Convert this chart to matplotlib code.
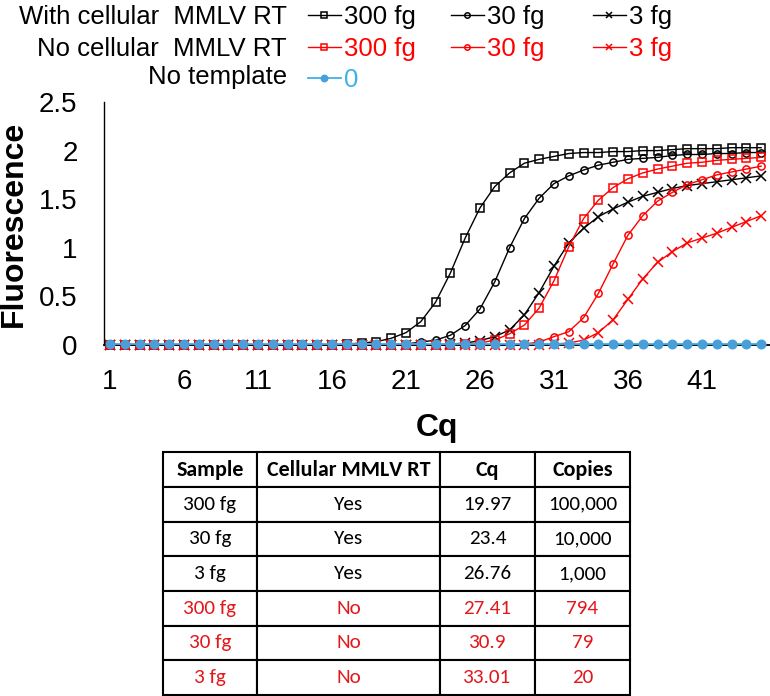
import numpy as np
import matplotlib
matplotlib.use("Agg")
import matplotlib.pyplot as plt

plt.rcParams['font.family'] = ['Liberation Sans', 'DejaVu Sans']

# ---------------- data ----------------
cycles = list(range(1, 46))
xticks = [1, 6, 11, 16, 21, 26, 31, 36, 41]
yticks = [0, 0.5, 1, 1.5, 2, 2.5]
ytick_labels = ['0', '0.5', '1', '1.5', '2', '2.5']

rt_300 = [0]*16 + [0.01, 0.02, 0.034, 0.069, 0.127, 0.24, 0.44, 0.74, 1.10, 1.41, 1.63, 1.77,
                   1.87, 1.91, 1.94, 1.97, 1.98, 1.98, 1.99, 1.99, 2.00, 2.00, 2.01, 2.02,
                   2.02, 2.02, 2.03, 2.03, 2.03]
rt_30 = [0]*20 + [0.01, 0.03, 0.05, 0.10, 0.20, 0.37, 0.65, 1.00, 1.30, 1.51, 1.66, 1.74,
                  1.80, 1.85, 1.88, 1.91, 1.92, 1.93, 1.95, 1.96, 1.96, 1.97, 1.97, 1.98, 1.98]
rt_3 = [0]*23 + [0.01, 0.02, 0.045, 0.086, 0.155, 0.31, 0.54, 0.81, 1.05, 1.20, 1.32, 1.40,
                 1.47, 1.53, 1.57, 1.61, 1.64, 1.66, 1.68, 1.70, 1.72, 1.74]
nort_300 = [0]*24 + [0.01, 0.02, 0.05, 0.115, 0.205, 0.38, 0.66, 1.01, 1.30, 1.49, 1.62,
                     1.71, 1.77, 1.81, 1.84, 1.87, 1.88, 1.90, 1.91, 1.92, 1.93]
nort_30 = [0]*28 + [0.01, 0.03, 0.086, 0.137, 0.28, 0.53, 0.835, 1.13, 1.33, 1.48, 1.57,
                    1.65, 1.70, 1.75, 1.78, 1.81, 1.84]
nort_3 = [0]*30 + [0.01, 0.02, 0.05, 0.127, 0.26, 0.47, 0.68, 0.85, 0.96, 1.05, 1.10, 1.15,
                   1.21, 1.27, 1.33]
no_template = [0.01]*45

table_header = ['Sample', 'Cellular MMLV RT', 'Cq', 'Copies']
table_samples = ['300 fg', '30 fg', '3 fg', '300 fg', '30 fg', '3 fg']
table_rt = ['Yes', 'Yes', 'Yes', 'No', 'No', 'No']
table_cq = ['19.97', '23.4', '26.76', '27.41', '30.9', '33.01']
table_copies = ['100,000', '10,000', '1,000', '794', '79', '20']

# ---------------- styles ----------------
BLACK = 'black'
RED = '#ff0000'
BLUE_LINE = '#3ab2ea'
BLUE_MK = '#4a9fd8'
TRED = '#e3181c'

W, H = 770, 696
fig = plt.figure(figsize=(W/100, H/100), dpi=100)
ax = fig.add_axes([104/W, (H-345)/H, 666/W, 243/H])

series = [
    (rt_300, BLACK, 's', '300 fg'),
    (rt_30, BLACK, 'o', '30 fg'),
    (rt_3, BLACK, 'x', '3 fg'),
    (nort_300, RED, 's', '300 fg'),
    (nort_30, RED, 'o', '30 fg'),
    (nort_3, RED, 'x', '3 fg'),
]
handles = []
for vals, col, mk, lab in series:
    ms = 6.5 if mk == 'x' else 5.2
    h, = ax.plot(cycles, vals, color=col, lw=1.0, marker=mk, ms=ms, mfc='none',
                 mec=col, mew=1.1, clip_on=False, label=lab)
    handles.append(h)
hb, = ax.plot(cycles, no_template, color=BLUE_LINE, lw=1.3, marker='o', ms=6.2,
              mfc=BLUE_MK, mec=BLUE_MK, clip_on=False, label='0', zorder=5)

ax.set_xlim(0.595, 45.6)
ax.set_ylim(0, 2.5)
ax.set_xticks(xticks)
ax.set_yticks(yticks)
ax.set_yticklabels(ytick_labels)
for s in ['top', 'right']:
    ax.spines[s].set_visible(False)
ax.spines['left'].set_linewidth(1.0)
ax.spines['bottom'].set_linewidth(1.3)
ax.xaxis.set_tick_params(which='major', length=0, labelsize=20, pad=17)
ax.yaxis.set_tick_params(which='major', length=0, labelsize=20, pad=19)
ax.set_ylabel('Fluorescence', fontsize=23, fontweight='bold', va='center')
ax.yaxis.set_label_coords((14-104)/666, 0.5)
ax.set_xlabel('Cq', fontsize=23, fontweight='bold', va='center')
ax.xaxis.set_label_coords(0.5, -(428-345)/243)

# ---------------- legend ----------------
FS = 18.5
row_labels = ['With cellular  MMLV RT', 'No cellular  MMLV RT', 'No template']
label_baseline = [24, 55.5, 84]
legend_baseline = [23.5, 56, 87]
col_x = [308, 451, 593]
for lab, y in zip(row_labels, label_baseline):
    fig.text(287/W, 1 - y/H, lab, ha='right', va='baseline', fontsize=FS)

entries = [
    (handles[0], BLACK, 0, 0), (handles[1], BLACK, 0, 1), (handles[2], BLACK, 0, 2),
    (handles[3], RED, 1, 0), (handles[4], RED, 1, 1), (handles[5], RED, 1, 2),
    (hb, BLUE_LINE, 2, 0),
]
em = FS * 100 / 72
for h, col, r, c in entries:
    yc = legend_baseline[r] - 0.26 * em
    leg = fig.legend([h], [h.get_label()], loc='center left',
                     bbox_to_anchor=(col_x[c]/W, 1 - yc/H), frameon=False,
                     fontsize=FS, borderpad=0, borderaxespad=0, handlelength=1.27,
                     handletextpad=0.15, markerscale=0.75)
    leg.get_texts()[0].set_color(col)

# ---------------- table ----------------
tax = fig.add_axes([162.7/W, 1/H, 467.3/W, 242.7/H])
tax.axis('off')
cell_text = [list(r) for r in zip(table_samples, table_rt, table_cq, table_copies)]
col_w = [94.6, 182.7, 95.0, 95.0]
tbl = tax.table(cellText=cell_text, colLabels=table_header, cellLoc='center',
                colWidths=[c/sum(col_w) for c in col_w], bbox=[0, 0, 1, 1])
tbl.auto_set_font_size(False)
for (r, c), cell in tbl.get_celld().items():
    cell.set_edgecolor('black')
    cell.set_linewidth(1.5)
    color = BLACK if r <= 3 else TRED
    txt = cell.get_text()
    txt.set_fontfamily(['Carlito', 'Archivo Narrow', 'Lato', 'DejaVu Sans'])
    txt.set_color(color)
    if r == 0:
        txt.set_fontweight('bold')
        txt.set_fontsize(15.8)
    else:
        txt.set_fontsize(15.2)

fig.savefig('out.png', dpi=100)
